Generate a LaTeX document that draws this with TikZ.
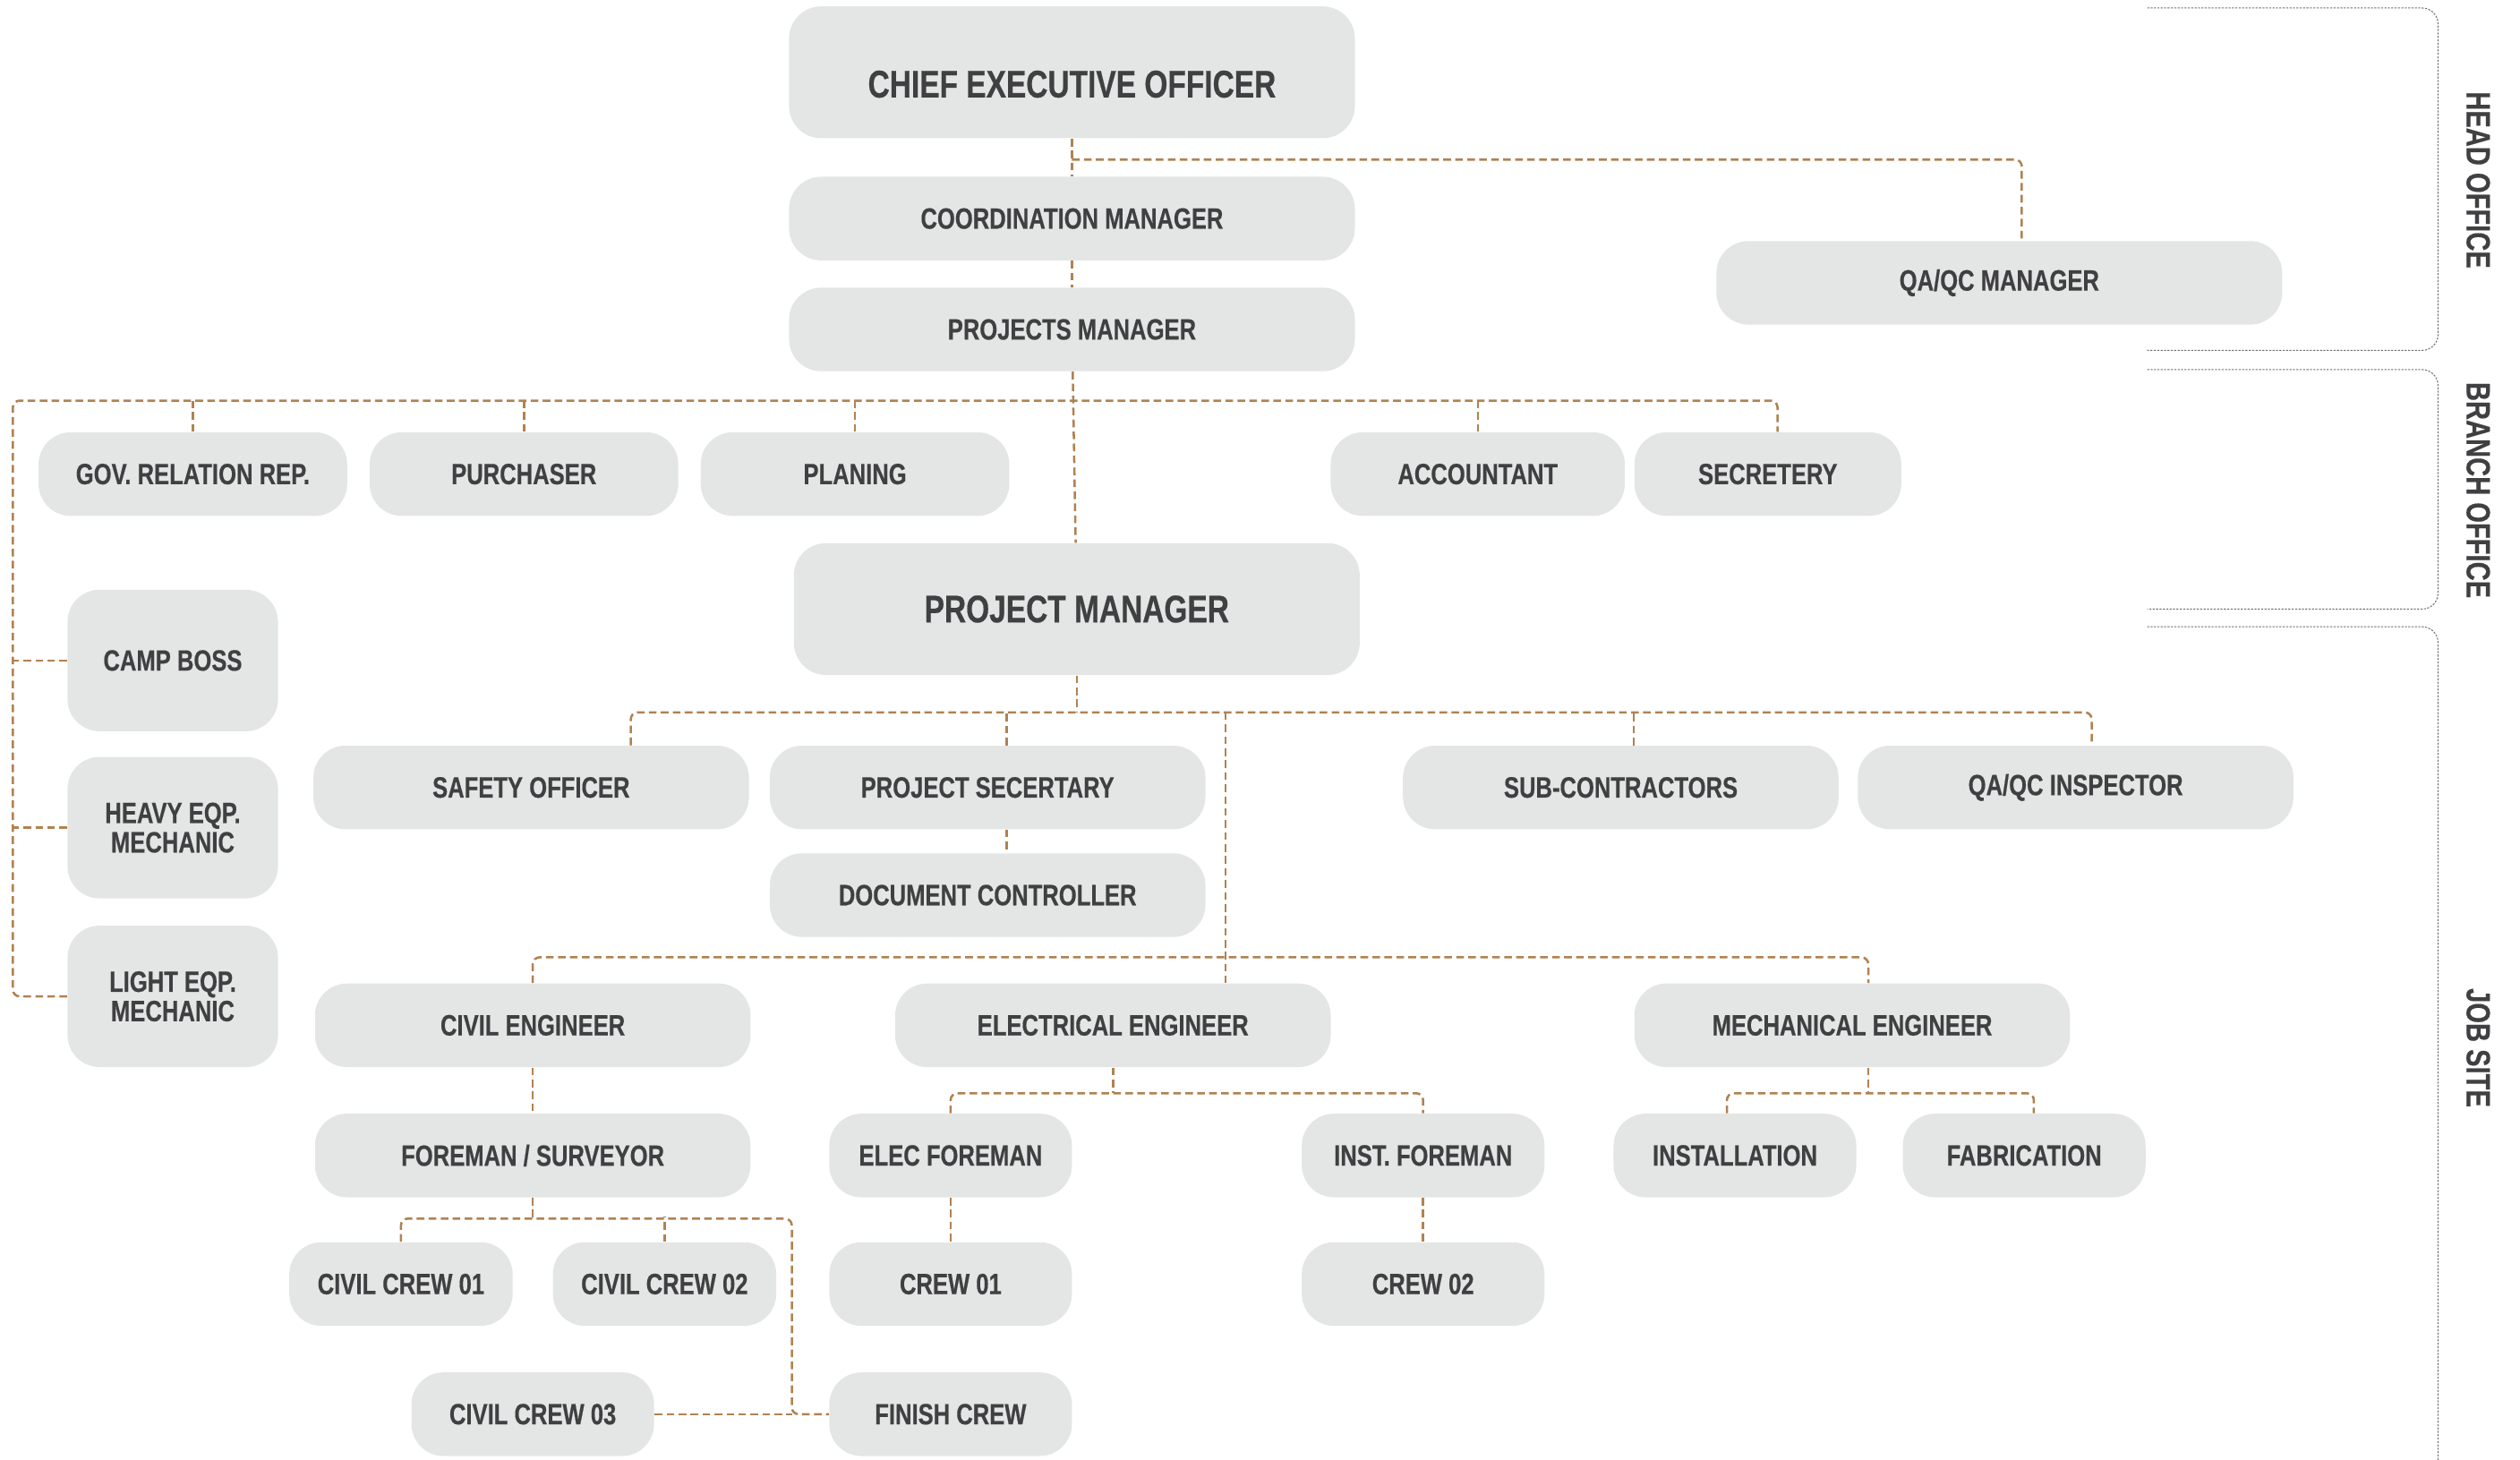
\documentclass[tikz,border=0pt]{standalone}
\usepackage{fontspec}
\newfontfamily\condfont{Liberation Sans}[FakeStretch=0.78, FakeBold=0.4]
\usetikzlibrary{calc}

\definecolor{boxgray}{HTML}{E4E5E5}
\definecolor{textgray}{HTML}{404042}
\definecolor{linkbrown}{HTML}{AF8252}
\definecolor{railgray}{HTML}{6E6E6E}

\tikzset{
  box/.style={fill=boxgray, rounded corners=0.5cm, minimum height=1.3cm, minimum width=#1,
    inner sep=2pt, text=textgray, align=center,
    font=\condfont\bfseries\fontsize{13}{13}\selectfont},
  box/.default=4.8cm,
  big/.style={box=8.8cm, minimum height=2.05cm,
    font=\condfont\bfseries\fontsize{17}{18}\selectfont},
  link/.style={draw=linkbrown, line width=1pt, dash pattern=on 3.4pt off 1.9pt},
  rail/.style={draw=railgray, line width=0.4pt, dash pattern=on 0.9pt off 0.6pt, rounded corners=7pt},
  unit/.style={text=textgray, rotate=-90,
    font=\condfont\bfseries\fontsize{14.8}{15}\selectfont},
}

\begin{document}
\begin{tikzpicture}[x=0.025cm,y=-0.025cm]
  \useasboundingbox (0,0) rectangle (1568,908);

  % head office
  \node[big, text height=0.78cm, text depth=0pt] (ceo) at (667,45) {CHIEF EXECUTIVE OFFICER};
  \node[box=8.8cm] (coord) at (667,136) {COORDINATION MANAGER};
  \node[box=8.8cm] (projs) at (667,205) {PROJECTS MANAGER};
  \node[box=8.8cm] (qaqcm) at (1244,176) {QA/QC MANAGER};

  % branch office
  \node[box] (gov) at (120,295) {GOV. RELATION REP.};
  \node[box] (purch) at (326,295) {PURCHASER};
  \node[box] (plan) at (532,295) {PLANING};
  \node[box=4.575cm] (acct) at (919.5,295) {ACCOUNTANT};
  \node[box=4.15cm] (secr) at (1100,295) {SECRETERY};

  \node[box=3.275cm, minimum height=2.2cm] (camp) at (107.5,411) {CAMP BOSS};
  \node[box=3.275cm, minimum height=2.2cm] (heavy) at (107.5,515) {HEAVY EQP.\\MECHANIC};
  \node[box=3.275cm, minimum height=2.2cm] (light) at (107.5,620) {LIGHT EQP.\\MECHANIC};

  % job site
  \node[big] (pm) at (670,379) {PROJECT MANAGER};
  \node[box=6.775cm] (safety) at (330.5,490) {SAFETY OFFICER};
  \node[box=6.775cm] (psec) at (614.5,490) {PROJECT SECERTARY};
  \node[box=6.775cm] (subc) at (1008.5,490) {SUB-CONTRACTORS};
  \node[box=6.775cm] (qaqci) at (1291.5,490) {QA/QC INSPECTOR};
  \node[box=6.775cm] (doc) at (614.5,557) {DOCUMENT CONTROLLER};

  \node[box=6.775cm] (civ) at (331.5,638) {CIVIL ENGINEER};
  \node[box=6.775cm] (elec) at (692.5,638) {ELECTRICAL ENGINEER};
  \node[box=6.775cm] (mech) at (1152.5,638) {MECHANICAL ENGINEER};

  \node[box=6.775cm] (fore) at (331.5,719) {FOREMAN / SURVEYOR};
  \node[box=3.775cm] (efore) at (591.5,719) {ELEC FOREMAN};
  \node[box=3.775cm] (ifore) at (885.5,719) {INST. FOREMAN};
  \node[box=3.775cm] (inst) at (1079.5,719) {INSTALLATION};
  \node[box=3.775cm] (fab) at (1259.5,719) {FABRICATION};

  \node[box=3.475cm] (cc1) at (249.5,799) {CIVIL CREW 01};
  \node[box=3.475cm] (cc2) at (413.5,799) {CIVIL CREW 02};
  \node[box=3.775cm] (crew1) at (591.5,799) {CREW 01};
  \node[box=3.775cm] (crew2) at (885.5,799) {CREW 02};
  \node[box=3.775cm] (cc3) at (331.5,880) {CIVIL CREW 03};
  \node[box=3.775cm] (finish) at (591.5,880) {FINISH CREW};

  % zone brackets
  \draw[rail] (1336,5) -- (1517,5) -- (1517,218) -- (1336,218);
  \draw[rail] (1336,230) -- (1517,230) -- (1517,379) -- (1336,379);
  \draw[rail] (1336,390) -- (1517,390) -- (1517,930) -- (1336,930);
  \node[unit] (headlbl) at (1542,112) {HEAD OFFICE};
  \node[unit] (branchlbl) at (1542,305) {BRANCH OFFICE};
  \node[unit] (sitelbl) at (1542,652) {JOB SITE};

  % top chain
  \coordinate (ceobus) at ($(ceo.south)+(0,13)$);
  \draw[link] (ceo) -- (coord);
  \draw[link] (coord) -- (projs);
  \draw[link] (projs) -- (pm);
  \draw[link,rounded corners=3pt] (ceobus) -| ($(qaqcm.north)+(14,0)$);

  % branch office bus
  \coordinate (officebus) at ($(projs.south)+(0,18)$);
  \coordinate (leftrail) at (officebus -| 8,0);
  \draw[link,rounded corners=3pt] (light.west) -| (leftrail) -| ($(secr.north)+(6,0)$);
  \foreach \n in {gov,purch,plan,acct}
    \draw[link] (\n.north) -- (\n.north |- officebus);
  \foreach \n in {camp,heavy}
    \draw[link] (\n.west) -- (\n.west -| leftrail);

  % project manager bus
  \coordinate (pmbus) at ($(pm.south)+(0,23)$);
  \draw[link] (pm.south) -- (pmbus);
  \draw[link,rounded corners=3pt] ($(safety.north)+(62,0)$) |- (pmbus) -| ($(qaqci.north)+(10,0)$);
  \draw[link] ($(psec.north)+(12,0)$) -- ++(0,-21);
  \draw[link] ($(subc.north)+(8,0)$) -- ++(0,-21);
  \draw[link] ($(psec.south)+(12,0)$) -- ($(doc.north)+(12,0)$);

  % engineers
  \coordinate (engbus) at ($(elec.north)+(70,-16)$);
  \draw[link] (engbus |- pmbus) -- ($(elec.north)+(70,0)$);
  \draw[link,rounded corners=3pt] (civ.north) |- (engbus) -| ($(mech.north)+(10,0)$);

  % electrical
  \coordinate (elecbus) at ($(elec.south)+(0,16)$);
  \draw[link] (elec.south) -- (elecbus);
  \draw[link,rounded corners=3pt] (efore.north) |- (elecbus) -| (ifore.north);
  \draw[link] (efore) -- (crew1);
  \draw[link] (ifore) -- (crew2);

  % mechanical
  \coordinate (mechbus) at ($(mech.south)+(10,16)$);
  \draw[link] ($(mech.south)+(10,0)$) -- (mechbus);
  \draw[link,rounded corners=3pt] ($(inst.north)+(-5,0)$) |- (mechbus) -| ($(fab.north)+(6,0)$);

  % civil
  \draw[link] (civ) -- (fore);
  \coordinate (forebus) at ($(fore.south)+(0,13)$);
  \coordinate (crewrail) at ($(finish.west)+(-23,0)$);
  \draw[link] (fore.south) -- (forebus);
  \draw[link,rounded corners=3pt] (cc1.north) |- (forebus) -| (crewrail) -- (finish.west);
  \draw[link] (cc2.north) -- ++(0,-16);
  \draw[link] (cc3.east) -- (crewrail);
\end{tikzpicture}
\end{document}
